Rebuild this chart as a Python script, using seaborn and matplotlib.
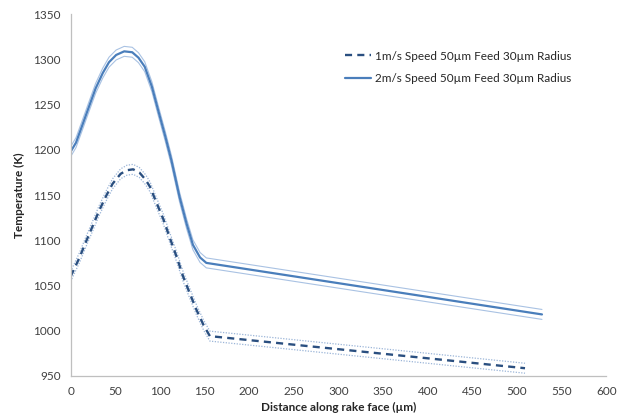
import numpy as np
import pandas as pd
import matplotlib
matplotlib.use("Agg")
import matplotlib.pyplot as plt
import seaborn as sns

# ---- data ----
series_names = ["1m/s Speed 50\u00b5m Feed 30\u00b5m Radius",
                "2m/s Speed 50\u00b5m Feed 30\u00b5m Radius"]

x_1ms = [0, 10, 17, 25, 32, 40, 47, 56, 63, 70, 77, 84, 89, 96, 104, 111,
         119, 126, 134, 141, 149, 156, 509]
t_1ms = [1060, 1081, 1098, 1116.5, 1133, 1149.5, 1162.5, 1173.5, 1177.5, 1178.5,
         1175, 1167, 1159, 1142, 1123, 1103, 1081, 1060, 1040, 1023, 1006,
         994, 958.5]

x_2ms = [0, 6, 13, 21, 28, 36, 43, 51, 60, 69, 76, 83, 91, 98, 106, 113, 122,
         130, 137, 145, 152, 528]
t_2ms = [1198, 1208, 1227, 1249, 1268, 1285, 1297, 1305, 1309, 1308, 1302,
         1292, 1270, 1244, 1215, 1188, 1148, 1118, 1095, 1081, 1075, 1018]

band_1ms = 5.5   # half-width of the thin envelope lines (K)
band_2ms = 5.5

x_ticks = [0, 50, 100, 150, 200, 250, 300, 350, 400, 450, 500, 550, 600]
y_ticks = [950, 1000, 1050, 1100, 1150, 1200, 1250, 1300, 1350]

# ---- build frames ----
df1 = pd.DataFrame({"x": x_1ms, "T": t_1ms})
df2 = pd.DataFrame({"x": x_2ms, "T": t_2ms})

sns.set_style("white")
plt.rcParams["font.family"] = ["Lato", "DejaVu Sans"]
plt.rcParams["lines.solid_joinstyle"] = "round"
plt.rcParams["lines.dash_joinstyle"] = "round"

fig = plt.figure(figsize=(6.25, 4.2), dpi=100)
ax = fig.add_axes([0.113, 0.105, 0.857, 0.861])

dark = "#2a4f80"
mid = "#4a7ebb"
light = "#a9c2e3"
light_dot = "#9bb5d8"

# envelope lines
sns.lineplot(x=df1["x"], y=df1["T"] + band_1ms, ax=ax, color=light_dot,
             lw=0.9, linestyle=(0, (1, 1.2)), legend=False)
sns.lineplot(x=df1["x"], y=df1["T"] - band_1ms, ax=ax, color=light_dot,
             lw=0.9, linestyle=(0, (1, 1.2)), legend=False)
sns.lineplot(x=df2["x"], y=df2["T"] + band_2ms, ax=ax, color=light,
             lw=0.8, legend=False)
sns.lineplot(x=df2["x"], y=df2["T"] - band_2ms, ax=ax, color=light,
             lw=0.8, legend=False)

# main lines
sns.lineplot(x=df1["x"], y=df1["T"], ax=ax, color=dark, lw=1.7,
             linestyle=(0, (3.0, 2.2)), label=series_names[0])
sns.lineplot(x=df2["x"], y=df2["T"], ax=ax, color=mid, lw=1.6,
             label=series_names[1])

ax.set_xlim(0, 600)
ax.set_ylim(950, 1350)
ax.set_xticks(x_ticks)
ax.set_yticks(y_ticks)
ax.tick_params(axis="both", labelsize=8.5, length=4, width=0.8,
               direction="out", color="#bfbfbf", labelcolor="#404040", pad=3)
for s in ["top", "right"]:
    ax.spines[s].set_visible(False)
for s in ["left", "bottom"]:
    ax.spines[s].set_color("#bfbfbf")
    ax.spines[s].set_linewidth(0.9)

ax.set_xlabel("Distance along rake face (\u00b5m)", fontsize=8.5,
              fontweight="bold", labelpad=4)
ax.set_ylabel("Temperature (K)", fontsize=8.5, fontweight="bold", labelpad=6)

leg = ax.legend(loc="upper left", bbox_to_anchor=(0.535, 0.905),
                bbox_transform=fig.transFigure, frameon=False, fontsize=8.5,
                handlelength=2.2, handletextpad=0.3, labelspacing=0.95)

fig.savefig("out.png", dpi=100)
